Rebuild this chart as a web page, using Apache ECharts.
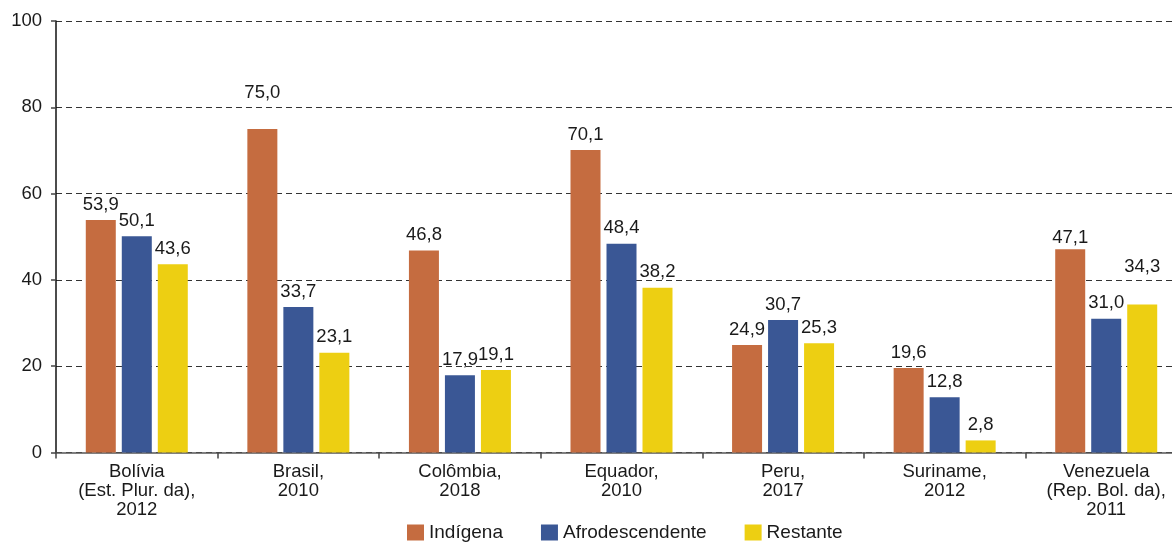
<!DOCTYPE html>
<html>
<head>
<meta charset="utf-8">
<script src="https://cdn.jsdelivr.net/npm/echarts@6/dist/echarts.min.js"></script>
<style>
html,body{margin:0;padding:0;background:#fff;}
#chart{width:1172px;height:542px;}
</style>
</head>
<body>
<div id="chart"></div>
<script>
const categories = [
  'Bolívia\n(Est. Plur. da),\n2012',
  'Brasil,\n2010',
  'Colômbia,\n2018',
  'Equador,\n2010',
  'Peru,\n2017',
  'Suriname,\n2012',
  'Venezuela\n(Rep. Bol. da),\n2011'
];
const seriesNames = ['Indígena', 'Afrodescendente', 'Restante'];
const indigena = [53.9, 75.0, 46.8, 70.1, 24.9, 19.6, 47.1];
const afrodescendente = [50.1, 33.7, 17.9, 48.4, 30.7, 12.8, 31.0];
const restante = [43.6, 23.1, 19.1, 38.2, 25.3, 2.8, 34.3];
const yTicks = [0, 20, 40, 60, 80, 100];

const colors = ['#C56C40', '#3A5795', '#EDCF12'];
const FONT = '"Liberation Sans", Arial, Helvetica, sans-serif';

// label distance tweaks (series index -> category index -> distance)
const labelDistance = { 0: { 1: 26, 6: 2 }, 2: { 6: 28 } };

function buildData(vals, si) {
  return vals.map((v, i) => {
    const d = labelDistance[si] && labelDistance[si][i];
    return d !== undefined ? { value: v, label: { distance: d } } : v;
  });
}

const fmt = p => p.value.toFixed(1).replace('.', ',');

const chart = echarts.init(document.getElementById('chart'), null, { renderer: 'canvas' });
const allVals = [indigena, afrodescendente, restante];
chart.setOption({
  animation: false,
  textStyle: { fontFamily: FONT },
  grid: { left: 56, right: -15, top: 21, bottom: 89.5, containLabel: false, outerBoundsMode: 'none' },
  legend: {
    data: seriesNames,
    left: 407,
    bottom: 0,
    padding: 0,
    icon: 'rect',
    itemWidth: 17,
    itemHeight: 16,
    itemGap: 38,
    textStyle: { fontSize: 19, color: '#1a1a1a', fontFamily: FONT }
  },
  xAxis: {
    type: 'category',
    data: categories,
    axisLine: { lineStyle: { color: '#555', width: 1.5 } },
    axisTick: { show: true, length: 6, lineStyle: { color: '#444', width: 1.5 } },
    axisLabel: { fontSize: 18.5, color: '#1a1a1a', lineHeight: 19, margin: 10, fontFamily: FONT, interval: 0 }
  },
  yAxis: {
    type: 'value',
    min: 0, max: 100, interval: 20,
    axisLine: { show: true, lineStyle: { color: '#111', width: 1.5 } },
    axisTick: { show: true, length: 5, lineStyle: { color: '#444', width: 1.5 } },
    axisLabel: { fontSize: 18.5, color: '#1a1a1a', margin: 14, fontFamily: FONT,
      formatter: v => yTicks.includes(v) ? String(v) : '' },
    splitLine: { show: true, lineStyle: { color: '#333', type: [6, 4], width: 1 } }
  },
  series: seriesNames.map((name, si) => ({
    name,
    type: 'bar',
    barWidth: 30,
    barGap: '20%',
    itemStyle: { color: colors[si] },
    label: {
      show: true, position: 'top', distance: 6,
      fontSize: 18.5, color: '#1a1a1a', fontFamily: FONT,
      formatter: fmt
    },
    data: buildData(allVals[si], si)
  }))
});
</script>
</body>
</html>
